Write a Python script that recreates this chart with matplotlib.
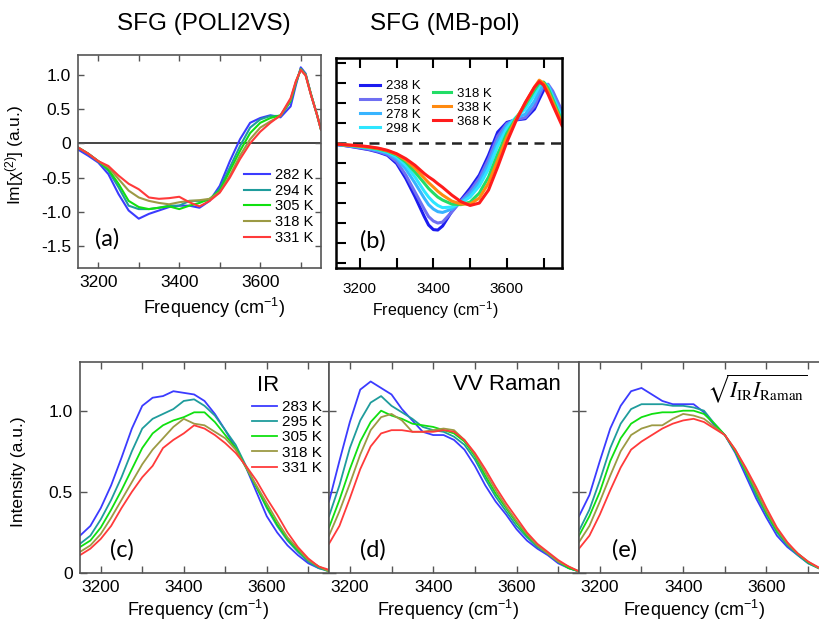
import matplotlib
matplotlib.use("Agg")
import matplotlib.pyplot as plt

plt.rcParams['font.family'] = ['Liberation Sans', 'DejaVu Sans']
plt.rcParams['mathtext.default'] = 'regular'

# ---------------- data ----------------
# (a) SFG POLI2VS
x_a = [3150, 3175, 3200, 3225, 3250, 3275, 3300, 3325, 3350, 3375, 3400, 3425, 3450, 3475,
       3500, 3525, 3550, 3575, 3600, 3625, 3650, 3675, 3688, 3700, 3712, 3725, 3740, 3750]
a_282 = [-0.09, -0.18, -0.28, -0.45, -0.74, -0.98, -1.10, -1.03, -0.98, -0.93, -0.91, -0.91, -0.94, -0.84,
         -0.62, -0.26, 0.06, 0.30, 0.37, 0.41, 0.38, 0.54, 0.85, 1.11, 1.02, 0.72, 0.42, 0.20]
a_294 = [-0.06, -0.15, -0.26, -0.40, -0.64, -0.91, -0.96, -0.96, -0.94, -0.91, -0.91, -0.84, -0.84, -0.83,
         -0.66, -0.35, -0.04, 0.23, 0.35, 0.40, 0.40, 0.61, 0.88, 1.09, 1.01, 0.72, 0.42, 0.20]
a_305 = [-0.06, -0.15, -0.26, -0.38, -0.59, -0.84, -0.93, -0.96, -0.94, -0.92, -0.96, -0.91, -0.87, -0.81,
         -0.69, -0.40, -0.11, 0.15, 0.30, 0.37, 0.41, 0.62, 0.89, 1.08, 1.00, 0.72, 0.42, 0.20]
a_318 = [-0.06, -0.15, -0.26, -0.35, -0.52, -0.69, -0.79, -0.84, -0.87, -0.89, -0.86, -0.84, -0.83, -0.81,
         -0.71, -0.47, -0.18, 0.06, 0.23, 0.32, 0.40, 0.64, 0.90, 1.08, 1.00, 0.72, 0.42, 0.20]
a_331 = [-0.06, -0.15, -0.26, -0.33, -0.47, -0.59, -0.67, -0.79, -0.81, -0.80, -0.78, -0.86, -0.92, -0.84,
         -0.72, -0.50, -0.23, 0.00, 0.17, 0.30, 0.41, 0.66, 0.91, 1.07, 0.99, 0.71, 0.42, 0.20]
a_labels = ['282 K', '294 K', '305 K', '318 K', '331 K']

# (b) SFG MB-pol (arbitrary units, tick spacing 1)
x_b = [3125, 3150, 3175, 3200, 3225, 3250, 3275, 3300, 3325, 3350, 3375, 3387, 3400, 3412, 3425, 3450,
       3475, 3500, 3525, 3550, 3575, 3600, 3625, 3650, 3675, 3688, 3700, 3712, 3725, 3750]
b_238 = [-0.05, -0.10, -0.17, -0.25, -0.33, -0.45, -0.61, -1.02, -1.77, -2.68, -3.67, -4.10, -4.33, -4.35, -4.15, -3.42,
         -2.84, -2.26, -1.60, -0.61, 0.55, 1.04, 1.16, 1.22, 1.70, 2.20, 2.65, 2.85, 2.50, 1.54]
b_258 = [-0.05, -0.10, -0.16, -0.23, -0.31, -0.42, -0.57, -0.92, -1.60, -2.45, -3.30, -3.68, -3.90, -4.00, -3.95, -3.45,
         -2.90, -2.40, -1.75, -0.80, 0.35, 0.98, 1.18, 1.28, 1.85, 2.40, 2.85, 2.95, 2.60, 1.60]
b_278 = [-0.04, -0.09, -0.14, -0.20, -0.27, -0.37, -0.50, -0.78, -1.30, -2.00, -2.75, -3.08, -3.30, -3.43, -3.47, -3.30,
         -2.95, -2.55, -1.95, -1.05, 0.10, 0.90, 1.25, 1.45, 2.10, 2.60, 2.95, 2.90, 2.40, 1.40]
b_298 = [-0.04, -0.08, -0.13, -0.18, -0.24, -0.33, -0.45, -0.68, -1.10, -1.70, -2.40, -2.70, -2.95, -3.12, -3.23, -3.20,
         -3.00, -2.70, -2.15, -1.30, -0.15, 0.75, 1.30, 1.70, 2.40, 2.85, 3.05, 2.85, 2.30, 1.25]
b_318 = [-0.04, -0.08, -0.12, -0.16, -0.22, -0.30, -0.41, -0.60, -0.95, -1.45, -2.00, -2.27, -2.50, -2.70, -2.85, -3.05,
         -3.08, -2.95, -2.50, -1.70, -0.55, 0.50, 1.25, 1.90, 2.65, 3.00, 3.05, 2.75, 2.20, 1.10]
b_338 = [-0.03, -0.07, -0.11, -0.15, -0.20, -0.27, -0.38, -0.56, -0.85, -1.25, -1.75, -1.98, -2.20, -2.41, -2.60, -2.90,
         -3.05, -3.05, -2.75, -2.00, -0.85, 0.30, 1.20, 2.00, 2.80, 3.15, 3.00, 2.60, 2.05, 1.00]
b_368 = [-0.03, -0.07, -0.10, -0.13, -0.18, -0.25, -0.36, -0.53, -0.78, -1.11, -1.52, -1.69, -1.85, -2.03, -2.21, -2.60,
         -2.93, -3.12, -3.00, -2.35, -1.19, 0.05, 1.12, 2.03, 2.80, 3.08, 2.90, 2.45, 1.90, 0.88]
b_labels = ['238 K', '258 K', '278 K', '298 K', '318 K', '338 K', '368 K']

# (c)-(e) spectra
x_s = [3150, 3175, 3200, 3225, 3250, 3275, 3300, 3325, 3350, 3375, 3400, 3425, 3450,
       3475, 3500, 3525, 3550, 3575, 3600, 3625, 3650, 3675, 3700, 3725, 3750]
s_labels = ['283 K', '295 K', '305 K', '318 K', '331 K']
ir_283 = [0.23, 0.29, 0.40, 0.54, 0.71, 0.89, 1.03, 1.08, 1.09, 1.12, 1.11, 1.10, 1.06,
          0.98, 0.88, 0.77, 0.65, 0.50, 0.35, 0.25, 0.17, 0.11, 0.06, 0.03, 0.015]
ir_295 = [0.18, 0.23, 0.33, 0.45, 0.59, 0.75, 0.89, 0.95, 0.98, 1.01, 1.06, 1.07, 1.03,
          0.97, 0.88, 0.79, 0.66, 0.53, 0.40, 0.29, 0.20, 0.13, 0.07, 0.03, 0.01]
ir_305 = [0.16, 0.20, 0.28, 0.39, 0.51, 0.64, 0.77, 0.86, 0.91, 0.94, 0.96, 0.99, 0.99,
          0.93, 0.85, 0.77, 0.65, 0.53, 0.41, 0.30, 0.21, 0.14, 0.08, 0.04, 0.01]
ir_318 = [0.13, 0.17, 0.24, 0.34, 0.45, 0.56, 0.67, 0.76, 0.83, 0.90, 0.95, 0.92, 0.91,
          0.87, 0.83, 0.76, 0.65, 0.54, 0.43, 0.32, 0.22, 0.15, 0.08, 0.04, 0.01]
ir_331 = [0.11, 0.15, 0.21, 0.29, 0.40, 0.50, 0.59, 0.66, 0.77, 0.82, 0.86, 0.91, 0.89,
          0.85, 0.80, 0.74, 0.66, 0.57, 0.46, 0.36, 0.25, 0.16, 0.09, 0.04, 0.02]

ra_283 = [0.44, 0.69, 0.93, 1.13, 1.18, 1.14, 1.10, 1.01, 0.94, 0.87, 0.85, 0.85, 0.82,
          0.76, 0.66, 0.54, 0.44, 0.36, 0.27, 0.20, 0.15, 0.11, 0.06, 0.03, 0.01]
ra_295 = [0.35, 0.54, 0.77, 0.94, 1.05, 1.09, 1.03, 0.99, 0.95, 0.90, 0.88, 0.87, 0.84,
          0.79, 0.70, 0.58, 0.47, 0.38, 0.29, 0.22, 0.16, 0.12, 0.07, 0.03, 0.01]
ra_305 = [0.28, 0.45, 0.64, 0.81, 0.93, 1.00, 0.97, 0.95, 0.92, 0.91, 0.90, 0.88, 0.86,
          0.81, 0.72, 0.60, 0.49, 0.40, 0.31, 0.23, 0.17, 0.12, 0.07, 0.03, 0.01]
ra_318 = [0.23, 0.38, 0.55, 0.73, 0.88, 0.96, 0.98, 0.94, 0.87, 0.87, 0.88, 0.89, 0.88,
          0.82, 0.73, 0.62, 0.51, 0.41, 0.32, 0.24, 0.17, 0.12, 0.07, 0.04, 0.01]
ra_331 = [0.18, 0.29, 0.46, 0.64, 0.78, 0.86, 0.88, 0.88, 0.87, 0.87, 0.87, 0.88, 0.87,
          0.82, 0.74, 0.64, 0.53, 0.43, 0.34, 0.25, 0.18, 0.13, 0.08, 0.04, 0.01]

gm_283 = [0.35, 0.48, 0.69, 0.89, 1.03, 1.12, 1.14, 1.10, 1.06, 1.04, 1.04, 1.04, 0.99,
          0.91, 0.85, 0.74, 0.60, 0.46, 0.34, 0.23, 0.16, 0.11, 0.06, 0.03, 0.01]
gm_295 = [0.26, 0.39, 0.57, 0.77, 0.92, 1.01, 1.04, 1.04, 1.04, 1.03, 1.03, 1.02, 1.00,
          0.92, 0.85, 0.75, 0.62, 0.48, 0.36, 0.25, 0.17, 0.11, 0.06, 0.03, 0.01]
gm_305 = [0.23, 0.35, 0.50, 0.69, 0.83, 0.92, 0.96, 0.98, 0.99, 0.99, 1.00, 1.00, 0.98,
          0.92, 0.85, 0.75, 0.63, 0.50, 0.37, 0.26, 0.18, 0.12, 0.065, 0.03, 0.01]
gm_318 = [0.19, 0.29, 0.44, 0.60, 0.75, 0.85, 0.89, 0.91, 0.91, 0.95, 0.98, 0.97, 0.95,
          0.90, 0.85, 0.76, 0.64, 0.51, 0.38, 0.27, 0.18, 0.12, 0.07, 0.03, 0.01]
gm_331 = [0.15, 0.23, 0.36, 0.51, 0.65, 0.76, 0.81, 0.85, 0.89, 0.92, 0.94, 0.95, 0.93,
          0.89, 0.85, 0.76, 0.65, 0.53, 0.40, 0.28, 0.19, 0.12, 0.07, 0.035, 0.01]

x_major = [3200, 3400, 3600]
x_major_labels = ['3200', '3400', '3600']
x_minor = [3300, 3500, 3700]
ya_ticks = [-1.5, -1.0, -0.5, 0, 0.5, 1.0]
ya_labels = ['-1.5', '-1.0', '-0.5', '0', '0.5', '1.0']
yb_ticks = [-6, -5, -4, -3, -2, -1, 1, 2, 3, 4]
ys_ticks = [0, 0.5, 1.0]
ys_labels = ['0', '0.5', '1.0']

# ---------------- styling ----------------
c5 = ['#3b3bff', '#1f9c9c', '#10e010', '#9c9a44', '#ff3a3a']
c7 = ['#1c1cf0', '#6f6ff2', '#38b4ff', '#2ee6ff', '#22dd66', '#ff8a10', '#ff1c1c']
GRAY = '#555555'
XLAB = 'Frequency (cm$^{-1}$)'

fig = plt.figure(figsize=(8.2, 6.23), dpi=100)


def px_axes(l, t, r, b):
    W, H = 820.0, 623.0
    return fig.add_axes([l / W, 1 - b / H, (r - l) / W, (b - t) / H])


def style(ax, color, lw, tl, tw, fs, right=True):
    for s in ax.spines.values():
        s.set_color(color)
        s.set_linewidth(lw)
    ax.tick_params(which='both', direction='in', top=True, right=right, length=tl,
                   width=tw, color=color, labelsize=fs, pad=5)
    ax.set_xticks(x_major)
    ax.set_xticklabels(x_major_labels)
    ax.set_xticks(x_minor, minor=True)


# (a)
axa = px_axes(78, 55, 321, 268)
for y, c, lab in zip([a_282, a_294, a_305, a_318, a_331], c5, a_labels):
    axa.plot(x_a, y, color=c, lw=1.5, label=lab, solid_joinstyle='round')
axa.axhline(0, color='#444444', lw=1.4, zorder=0)
axa.set_xlim(3150, 3750)
axa.set_ylim(-1.82, 1.29)
style(axa, GRAY, 1.2, 4, 1.0, 12.5)
axa.set_yticks(ya_ticks)
axa.set_yticklabels(ya_labels)
axa.set_ylabel(r'Im[$\chi^{(2)}$] (a.u.)', fontsize=12.5)
axa.yaxis.set_label_coords(-0.215, 0.53)
axa.set_xlabel(XLAB, fontsize=13)
axa.xaxis.set_label_coords(0.56, -0.13)
axa.legend(loc='upper left', bbox_to_anchor=(0.685, 0.47), frameon=False, fontsize=10.5,
           handlelength=1.75, handletextpad=0.35, labelspacing=0.12, borderpad=0, borderaxespad=0)
axa.text(0.12, 0.135, '(a)', transform=axa.transAxes, ha='center', va='center',
         fontsize=17, family='Lato')

# (b)
axb = px_axes(336, 58, 562, 268)
for y, c, lab in zip([b_238, b_258, b_278, b_298, b_318, b_338, b_368], c7, b_labels):
    axb.plot(x_b, y, color=c, lw=2.2, label=lab, solid_joinstyle='round')
axb.axhline(0, color='#222222', lw=1.8, ls=(0, (4, 2.6)), zorder=0)
axb.set_xlim(3135, 3750)
axb.set_ylim(-6.25, 4.26)
style(axb, 'black', 1.8, 7, 1.5, 11, right=False)
axb.set_yticks(yb_ticks)
axb.set_yticklabels([])
axb.tick_params(axis='x', which='both', pad=10)
axb.set_xlabel(XLAB, fontsize=11.5)
axb.xaxis.set_label_coords(0.44, -0.15)
hs = axb.get_lines()
leg1 = axb.legend(hs[:4], b_labels[:4], loc='upper left', bbox_to_anchor=(0.105, 0.895),
                  frameon=False, fontsize=9.5, handlelength=1.55, handletextpad=0.45,
                  labelspacing=0.15, borderpad=0, borderaxespad=0)
axb.add_artist(leg1)
axb.legend(hs[4:7], b_labels[4:7], loc='upper left', bbox_to_anchor=(0.43, 0.86),
           frameon=False, fontsize=9.5, handlelength=1.35, handletextpad=0.45,
           labelspacing=0.15, borderpad=0, borderaxespad=0)
axb.text(0.165, 0.13, '(b)', transform=axb.transAxes, ha='center', va='center',
         fontsize=17, family='Lato')

fig.text(0.248, 0.961, 'SFG (POLI2VS)', ha='center', va='center', fontsize=17.5)
fig.text(0.543, 0.961, 'SFG (MB-pol)', ha='center', va='center', fontsize=17.5)

# (c), (d), (e)
panels = [
    (80, 329, [ir_283, ir_295, ir_305, ir_318, ir_331], '(c)', 0.169, 0.472),
    (329, 579, [ra_283, ra_295, ra_305, ra_318, ra_331], '(d)', 0.176, 0.474),
    (579, 829, [gm_283, gm_295, gm_305, gm_318, gm_331], '(e)', 0.184, 0.46),
]
axes_bottom = []
for l, r, series, tag, tx, lx in panels:
    ax = px_axes(l, 362, r, 573)
    for y, c, lab in zip(series, c5, s_labels):
        ax.plot(x_s, y, color=c, lw=1.3, label=lab, solid_joinstyle='round')
    ax.set_xlim(3150, 3750)
    ax.set_ylim(0, 1.3)
    style(ax, GRAY, 1.2, 5, 1.0, 12.5)
    ax.set_yticks(ys_ticks)
    ax.set_yticklabels(ys_labels)
    ax.set_xlabel(XLAB, fontsize=13)
    ax.xaxis.set_label_coords(lx, -0.118)
    ax.text(tx, 0.11, tag, transform=ax.transAxes, ha='center', va='center',
            fontsize=17, family='Lato')
    axes_bottom.append(ax)

axc, axd, axe = axes_bottom
axd.tick_params(axis='y', labelleft=False)
axe.tick_params(axis='y', labelleft=False)
axc.set_ylabel('Intensity (a.u.)', fontsize=12.5)
axc.yaxis.set_label_coords(-0.215, 0.48)
axc.legend(loc='upper left', bbox_to_anchor=(0.69, 0.82), frameon=False, fontsize=11,
           handlelength=1.65, handletextpad=0.35, labelspacing=0.08, borderpad=0, borderaxespad=0)
axc.text(0.755, 0.89, 'IR', transform=axc.transAxes, ha='center', va='center', fontsize=16)
axd.text(0.712, 0.895, 'VV Raman', transform=axd.transAxes, ha='center', va='center', fontsize=16)
axe.text(0.712, 0.875, r'$\sqrt{\mathit{I}_{\mathrm{IR}}\mathit{I}_{\mathrm{Raman}}}$',
         transform=axe.transAxes, ha='center', va='center', fontsize=15.5, math_fontfamily='stix')

fig.savefig('out.png', dpi=100)
